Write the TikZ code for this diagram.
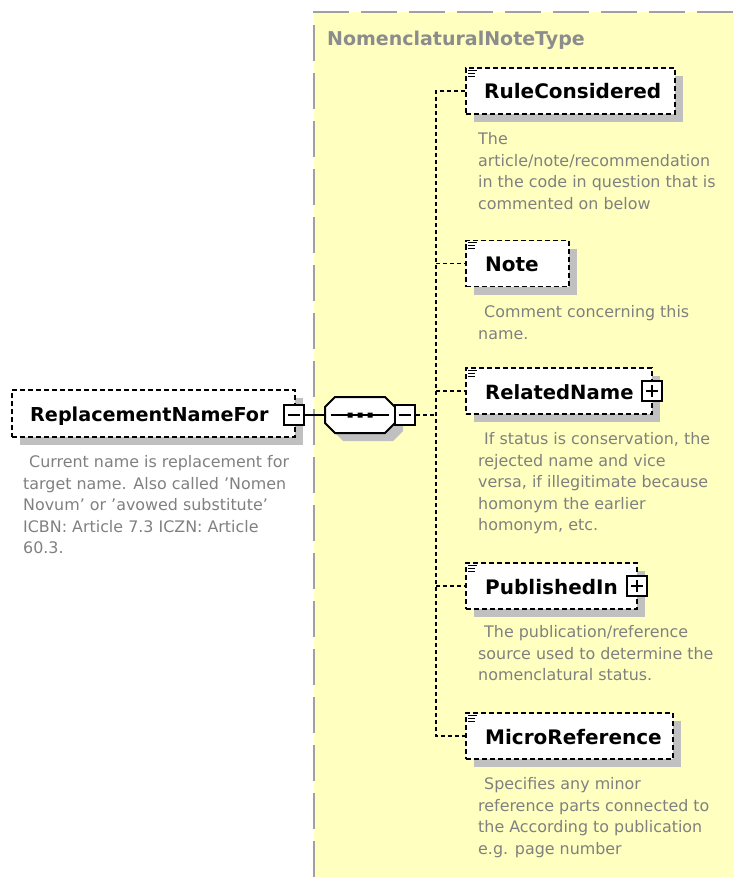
\documentclass[tikz,border=0pt]{standalone}
\usepackage{fontspec}
\setmainfont{DejaVu Sans}
\usetikzlibrary{shadows}
\definecolor{typebg}{RGB}{255,255,192}
\definecolor{typeborder}{RGB}{160,160,160}
\definecolor{shadowgray}{RGB}{192,192,192}
\definecolor{desccol}{RGB}{128,128,128}
\definecolor{titlecol}{RGB}{140,140,140}
\begin{document}
\begin{tikzpicture}[x=1pt,y=-1pt,
  elembox/.style={draw=black, fill=white, line width=1.5pt, dash pattern=on 5pt off 3pt,
    inner sep=0pt, rectangle,
    general shadow={fill=shadowgray, shadow xshift=8pt, shadow yshift=-8pt}},
  iconbox/.style={draw=black, fill=white, line width=1.5pt, inner sep=0pt, minimum size=20pt},
  nametext/.style={inner sep=0pt, anchor=base west, font=\fontsize{20}{22}\selectfont\bfseries, text=black},
  desctext/.style={inner sep=0pt, anchor=north west, align=left, text=desccol,
    font=\fontsize{15.9}{21.6}\selectfont},
  titletext/.style={inner sep=0pt, anchor=base west, text=titlecol,
    font=\fontsize{19}{22}\selectfont\bfseries},
  dashconn/.style={draw=black, line width=1.6pt, dash pattern=on 4pt off 3pt},
  solidconn/.style={draw=black, line width=1.5pt},
  typeframe/.style={draw=typeborder, line width=2pt, dash pattern=on 36pt off 12pt},
  listicon/.style={draw=black, line width=1pt}
]
\useasboundingbox (0,0) rectangle (734,877);

% complex type background
\fill[typebg] (314,12) rectangle (734,877);
\draw[typeframe] (314,877) -- (314,12) -- (734,12);
\node[titletext] (title) at (327,46) {NomenclaturalNoteType};

% left element
\node[elembox, minimum width=283pt, minimum height=47pt] (repl) at (153.5,413.5) {};
\node[nametext, font=\fontsize{19.2}{22}\selectfont\bfseries] (replT) at (30,421) {ReplacementNameFor};
\node[iconbox] (replMinus) at (294,415) {};
\draw[solidconn] ([xshift=-6pt]replMinus.center) -- ([xshift=6pt]replMinus.center);
\node[desctext] (replD) at (23,452.3) {\rule{0pt}{15pt}\hspace*{6pt}Current name is replacement for\\
target name. Also called 'Nomen\\
Novum' or 'avowed substitute'\\
ICBN: Article 7.3 ICZN: Article\\
60.3.};

% sequence compositor (octagon)
\coordinate (seqW) at (325,415);
\fill[shadowgray] (343,405) -- (393,405) -- (403,415) -- (403,431) -- (393,441) -- (343,441) -- (333,431) -- (333,415) -- cycle;
\draw[fill=white, line width=2pt, line join=miter] (335,397) -- (385,397) -- (395,407) -- (395,423) -- (385,433) -- (335,433) -- (325,423) -- (325,407) -- cycle;
\draw[solidconn] (331,415) -- (389,415);
\fill[black] (347.5,412.5) rectangle ++(5,5) (357.5,412.5) rectangle ++(5,5) (367.5,412.5) rectangle ++(5,5);
\node[iconbox] (seqMinus) at (405,415) {};
\draw[solidconn] ([xshift=-6pt]seqMinus.center) -- ([xshift=6pt]seqMinus.center);
\draw[solidconn] (replMinus.east) -- (seqW);

% children boxes
\node[elembox, minimum width=209pt, minimum height=46pt] (rule) at (570.5,91) {};
\node[nametext] (ruleT) at (484,99) {RuleConsidered};
\node[elembox, minimum width=103pt, minimum height=46pt] (note) at (517.5,263.5) {};
\node[nametext] (noteT) at (485,271.5) {Note};
\node[elembox, minimum width=186pt, minimum height=46pt] (rel) at (559,391) {};
\node[nametext, font=\fontsize{19.6}{22}\selectfont\bfseries] (relT) at (485,399) {RelatedName};
\node[iconbox] (relPlus) at (652,391) {};
\draw[solidconn] ([xshift=-6pt]relPlus.center) -- ([xshift=6pt]relPlus.center)
  ([yshift=-6pt]relPlus.center) -- ([yshift=6pt]relPlus.center);
\node[elembox, minimum width=171pt, minimum height=46pt] (pub) at (551.5,586) {};
\node[nametext] (pubT) at (485,594) {PublishedIn};
\node[iconbox] (pubPlus) at (637,586) {};
\draw[solidconn] ([xshift=-6pt]pubPlus.center) -- ([xshift=6pt]pubPlus.center)
  ([yshift=-6pt]pubPlus.center) -- ([yshift=6pt]pubPlus.center);
\node[elembox, minimum width=207pt, minimum height=46pt] (micro) at (569.5,736) {};
\node[nametext] (microT) at (485,744) {MicroReference};

% list icons
\foreach \b in {rule,note,rel,pub,micro}{
  \draw[listicon] ([xshift=3pt,yshift=-3pt]\b.north west) -- ++(9,0)
                  ([xshift=3pt,yshift=-6pt]\b.north west) -- ++(7,0)
                  ([xshift=3pt,yshift=-9pt]\b.north west) -- ++(7,0);
}

% descriptions
\node[desctext] (ruleD) at (478,129.3) {\rule{0pt}{15pt}The\\
article/note/recommendation\\
in the code in question that is\\
commented on below};
\node[desctext] (noteD) at (478,302.3) {\rule{0pt}{15pt}\hspace*{6pt}Comment concerning this\\
name.};
\node[desctext] (relD) at (478,429.3) {\rule{0pt}{15pt}\hspace*{6pt}If status is conservation, the\\
rejected name and vice\\
versa, if illegitimate because\\
homonym the earlier\\
homonym, etc.};
\node[desctext] (pubD) at (478,622.3) {\rule{0pt}{15pt}\hspace*{6pt}The publication/reference\\
source used to determine the\\
nomenclatural status.};
\node[desctext] (microD) at (478,774.3) {\rule{0pt}{15pt}\hspace*{6pt}Specifies any minor\\
reference parts connected to\\
the According to publication\\
e.g. page number};

% connectors
\coordinate (trunkTop) at (436,91);
\coordinate (trunkMid) at (436,415);
\coordinate (trunkBot) at (436,736);
\draw[dashconn] (seqMinus.east) -- (trunkMid);
\draw[dashconn] (rule.west) -- (trunkTop) -- (trunkBot) -- (micro.west);
\draw[dashconn] (trunkTop |- note.west) -- (note.west);
\draw[dashconn] (trunkTop |- rel.west) -- (rel.west);
\draw[dashconn] (trunkTop |- pub.west) -- (pub.west);
\end{tikzpicture}
\end{document}
